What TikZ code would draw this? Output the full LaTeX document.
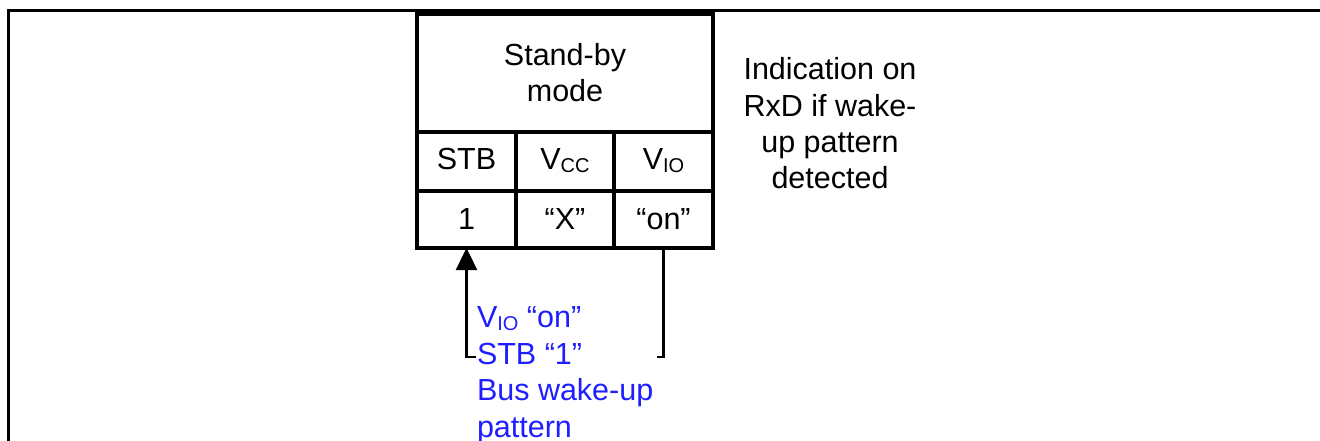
\documentclass[tikz,border=0pt]{standalone}
\usepackage{fontspec}
\setmainfont{Liberation Sans}
\usetikzlibrary{arrows.meta}
\definecolor{labelblue}{RGB}{30,30,255}
\newcommand{\subtxt}[1]{\raisebox{-3pt}{\fontsize{20}{20}\selectfont #1}}
\tikzset{
  txt/.style={inner sep=0pt, outer sep=0pt, font=\fontsize{30.5}{36.5}\selectfont},
  cell/.style={draw, line width=3.2pt, inner sep=0pt, outer sep=0pt},
  frameline/.style={line width=2.4pt},
  conn/.style={line width=2.4pt},
}
\begin{document}
\begin{tikzpicture}[x=1pt,y=-1pt]
\useasboundingbox (0,0) rectangle (1320,441);
\fill[white] (0,0) rectangle (1320,441);
% open frame
\draw[frameline] (1320,10.5) -- (8.5,10.5) -- (8.5,441);
% table cells
\node[cell, minimum width=296pt, minimum height=118pt] (title) at (565,73) {};
\node[cell, minimum width=99pt, minimum height=59pt] (h1) at (466.5,161.5) {};
\node[cell, minimum width=98pt, minimum height=59pt] (h2) at (565,161.5) {};
\node[cell, minimum width=99pt, minimum height=59pt] (h3) at (663.5,161.5) {};
\node[cell, minimum width=99pt, minimum height=57pt] (c1) at (466.5,219.5) {};
\node[cell, minimum width=98pt, minimum height=57pt] (c2) at (565,219.5) {};
\node[cell, minimum width=99pt, minimum height=57pt] (c3) at (663.5,219.5) {};
% texts (multi-line nodes: base = baseline of last line)
\node[txt, anchor=base, align=center] (ttl) at (565,102) {Stand-by\\mode};
\node[txt, anchor=base] (t1) at (466.5,169) {STB};
\node[txt, anchor=base] (t2) at (565,169) {V\subtxt{CC}};
\node[txt, anchor=base] (t3) at (663.5,169) {V\subtxt{IO}};
\node[txt, anchor=base] (v1) at (466.5,229) {1};
\node[txt, anchor=base] (v2) at (565,229) {“X”};
\node[txt, anchor=base] (v3) at (663.5,229) {“on”};
\node[txt, anchor=base, align=center] (ind) at (830,189) {Indication on\\RxD if wake-\\up pattern\\detected};
\node[txt, anchor=base west, align=left, text=labelblue] (cond) at (477,437) {V\subtxt{IO} “on”\\STB “1”\\Bus wake-up\\pattern};
% connectors
\coordinate (lb) at (476,357);
\coordinate (rb) at (657,357);
\draw[conn, -{Triangle[length=22pt,width=21pt]}] (lb) -| (c1.south);
\draw[conn] (c3.south) |- (rb);
\end{tikzpicture}
\end{document}
